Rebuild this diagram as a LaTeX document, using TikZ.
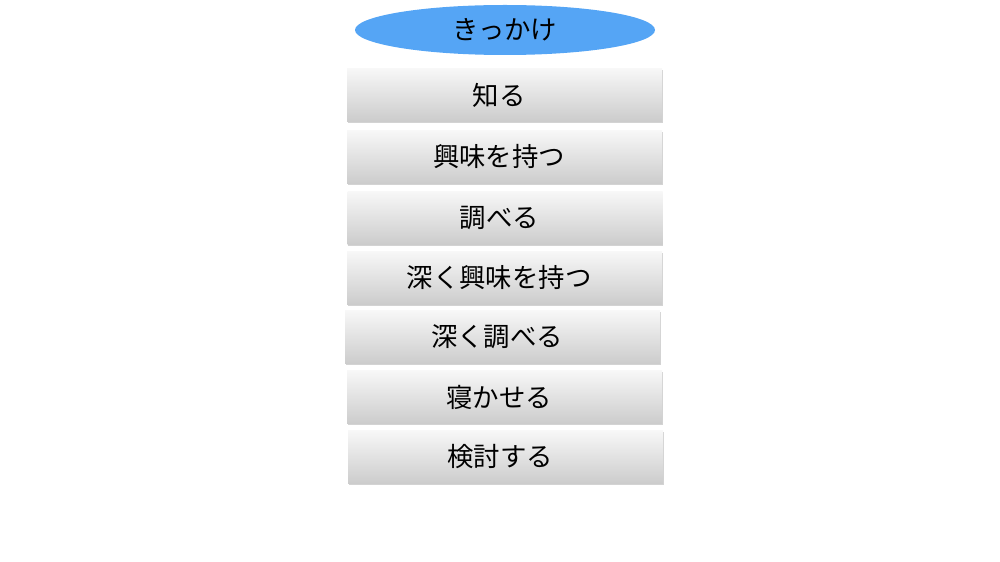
\documentclass[tikz,border=0pt]{standalone}
\usepackage{fontspec}
\newfontfamily\jpfont{Noto Sans CJK JP}
\usetikzlibrary{shapes.geometric,shadows}
\definecolor{ovalblue}{HTML}{55A5F5}
\begin{document}
\begin{tikzpicture}[x=1bp,y=-1bp,font=\jpfont\fontsize{26.5}{30}\selectfont]
				\tikzset{
					stepbox/.style={rectangle,minimum width=315bp,minimum height=53bp,
						top color=gray!6,bottom color=gray!40,inner sep=0pt,
						drop shadow={shadow xshift=0.6bp,shadow yshift=-1.2bp,opacity=.35}},
					oval/.style={ellipse,fill=ovalblue,minimum width=300bp,minimum height=50bp,inner sep=0pt}
				}
				\useasboundingbox (0,0)rectangle(1000,562);
				\node[oval] (start) at (505,30) {きっかけ};
				\foreach \y/\x/\txt/\name in {95/504.5/知る/s1,157/504.5/興味を持つ/s2,218/505/調べる/s3,
					278/504.5/深く興味を持つ/s4,337/502.5/深く調べる/s5,397/504.5/寝かせる/s6,457/505.5/検討する/s7}{
					\node[stepbox] (\name) at (\x,\y) {\kern-11bp\txt};
				}
			\end{tikzpicture}
\end{document}
